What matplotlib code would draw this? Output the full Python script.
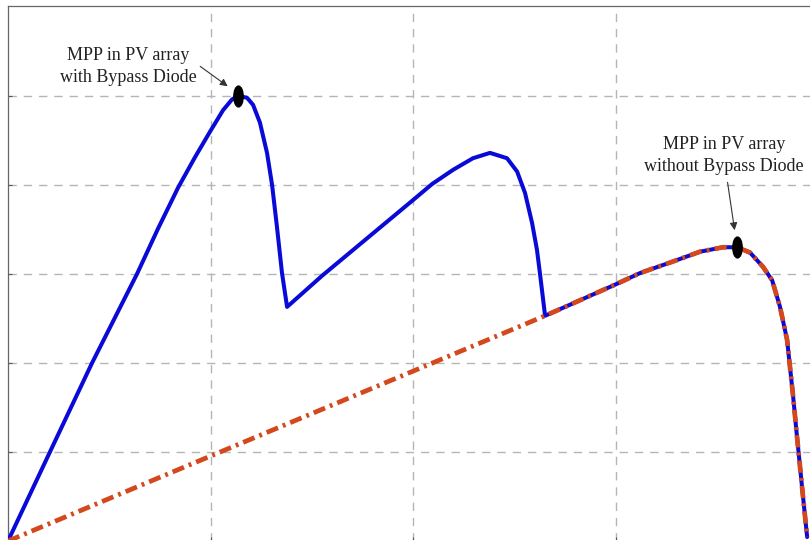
import matplotlib
matplotlib.use("Agg")
import matplotlib.pyplot as plt
from matplotlib.markers import MarkerStyle
from matplotlib.transforms import Affine2D

# Curva P-V con diodo de bypass (azul)
v_bypass = [0.0, 0.207, 0.415, 0.637, 0.741, 0.840, 0.923, 0.998, 1.062, 1.106, 1.136,
            1.180, 1.210, 1.244, 1.279, 1.304, 1.328, 1.353, 1.378,
            1.551, 2.000, 2.094, 2.198, 2.296, 2.380, 2.464, 2.514, 2.553, 2.588,
            2.612, 2.627, 2.652,
            2.998, 3.121, 3.284, 3.417, 3.531, 3.600, 3.664, 3.728, 3.773, 3.812,
            3.847, 3.877, 3.896, 3.926, 3.946]
p_bypass = [0.0, 1.0, 2.0, 3.0, 3.51, 3.97, 4.31, 4.60, 4.84, 4.96, 5.0,
            4.98, 4.90, 4.70, 4.36, 4.0, 3.53, 3.01, 2.63,
            2.98, 3.83, 4.01, 4.17, 4.30, 4.36, 4.30, 4.15, 3.91, 3.57,
            3.27, 3.0, 2.53,
            2.88, 3.01, 3.14, 3.25, 3.30, 3.30, 3.24, 3.08, 2.93, 2.63,
            2.26, 1.62, 1.17, 0.49, 0.045]

# Curva P-V sin diodo de bypass (roja)
v_sin = [0.0, 2.652, 2.998, 3.121, 3.284, 3.417, 3.531, 3.600, 3.664, 3.728, 3.773,
         3.812, 3.847, 3.877, 3.896, 3.926, 3.946]
p_sin = [0.0, 2.53, 2.88, 3.01, 3.14, 3.25, 3.30, 3.30, 3.24, 3.08, 2.93,
         2.63, 2.26, 1.62, 1.17, 0.49, 0.045]

# Puntos MPP
mpp_v = [1.136, 3.600]
mpp_p = [5.0, 3.30]

fig = plt.figure(figsize=(8.1, 5.4), dpi=100)
ax = fig.add_axes([8 / 810, -1 / 540, 804 / 810, 535 / 540])
ax.set_xlim(0, 3.97)
ax.set_ylim(0, 6.01)

ax.set_xticks([1, 2, 3])
ax.set_yticks([1, 2, 3, 4, 5])
ax.set_xticklabels([])
ax.set_yticklabels([])
ax.tick_params(direction="in", length=3, color="#555555")
ax.grid(True, color="#b5b5b5", linestyle=(0, (6, 5)), linewidth=1.0)

for lado in ["right", "bottom"]:
    ax.spines[lado].set_visible(False)
for lado in ["top", "left"]:
    ax.spines[lado].set_color("#666666")
    ax.spines[lado].set_linewidth(0.9)

ax.plot(v_bypass, p_bypass, color="#0a0ad8", linewidth=2.9,
        solid_joinstyle="round", solid_capstyle="round", zorder=3)
ax.plot(v_sin, p_sin, color="#d4481e", linewidth=3.4, dashes=[2.6, 1.1, 0.6, 1.1],
        dash_joinstyle="round", zorder=4)

ovalo = MarkerStyle("o", transform=Affine2D().scale(0.45, 1.0))
ax.plot(mpp_v, mpp_p, linestyle="none", marker=ovalo, markersize=15, color="black", zorder=5)

fuente = dict(family="Liberation Serif", fontsize=13, ha="center", va="center",
              linespacing=1.35, color="#222222")
ax.text(0.593, 5.33, "MPP in PV array\nwith Bypass Diode", **fuente)
ax.text(3.536, 4.33, "MPP in PV array\nwithout Bypass Diode", **fuente)

flecha = dict(arrowstyle="-|>", color="#333333", lw=0.8, mutation_scale=11)
ax.annotate("", xy=(1.096, 5.09), xytext=(0.938, 5.35), arrowprops=flecha)
ax.annotate("", xy=(3.590, 3.46), xytext=(3.551, 4.06), arrowprops=flecha)

fig.savefig("out.png", dpi=100)
